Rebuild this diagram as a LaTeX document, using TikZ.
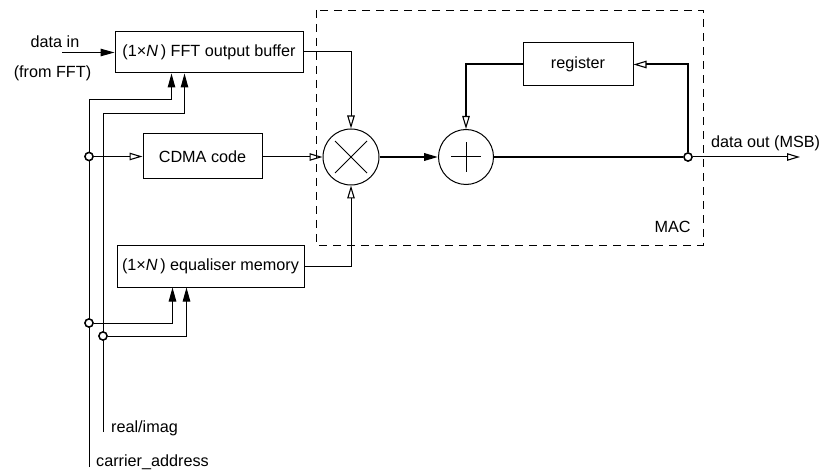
\documentclass[tikz,border=0pt]{standalone}
\usepackage{fontspec}
\setmainfont{Liberation Sans}
\usetikzlibrary{arrows.meta}
\begin{document}
\begin{tikzpicture}[x=1pt,y=-1pt,
  every node/.style={font=\fontsize{16.2}{19}\selectfont},
  blk/.style={draw,line width=1pt,rectangle,inner sep=0pt},
  opblk/.style={draw,line width=1pt,circle,inner sep=0pt},
  wire/.style={line width=1pt},
  thick wire/.style={line width=2pt},
  farrow/.style={-{Triangle[length=14pt,width=7.5pt]}},
  oarrow/.style={-{Triangle[open,length=13pt,width=7.5pt,line width=1.1pt]}},
  jdot/.style={draw,circle,fill=white,line width=1.4pt,minimum size=8pt,inner sep=0pt},
  lbl/.style={inner sep=0pt}]
\useasboundingbox (0,0) rectangle (822,473);
% MAC box
\draw[line width=0.9pt,dash pattern=on 8pt off 6pt] (316,10) rectangle (703,245);
\node[lbl] (mac) at (672.5,227) {MAC};
% blocks
\node[blk,minimum width=188pt,minimum height=41pt] (fft) at (209,52.5) {(1×\textit{N}\,) FFT output buffer};
\node[blk,minimum width=119pt,minimum height=45pt] (cdma) at (202.5,156.5) {CDMA code};
\node[blk,minimum width=187pt,minimum height=41pt] (eq) at (210.5,266.5) {(1×\textit{N}\,) equaliser memory};
\node[blk,minimum width=110pt,minimum height=43pt] (reg) at (578,64.5) {register};
\node[opblk,minimum size=56pt] (mul) at (351,157) {};
\node[opblk,minimum size=55pt] (add) at (466,157) {};
\draw[wire] ([shift={(-16,-16)}]mul.center) -- ([shift={(16,16)}]mul.center);
\draw[wire] ([shift={(-16,16)}]mul.center) -- ([shift={(16,-16)}]mul.center);
\draw[wire] ([xshift=-15]add.center) -- ([xshift=15]add.center);
\draw[wire] ([yshift=-15]add.center) -- ([yshift=15]add.center);
% coordinates
\coordinate (din) at (62,52.5);
\coordinate (caBot) at (89,467);
\coordinate (riBot) at (103,432);
\coordinate (dout) at (800,157);
\coordinate (fa1) at ([xshift=57pt]fft.south west);
\coordinate (fa2) at ([xshift=70pt]fft.south west);
\coordinate (ea1) at ([xshift=56pt]eq.south west);
\coordinate (ea2) at ([xshift=70pt]eq.south west);
\node[jdot] (j1) at (89,156.5) {};
\node[jdot] (j2) at (89,323) {};
\node[jdot] (j3) at (103,336) {};
\node[jdot] (jout) at (688,157) {};
% labels
\node[lbl] (dinl) at (55,42) {data in};
\node[lbl] (fromfft) at (52.5,73) {(from FFT)};
\node[lbl,anchor=west] (doutl) at (711,143) {data out (MSB)};
\node[lbl,anchor=west] (ril) at (111,428) {real/imag};
\node[lbl,anchor=west] (cal) at (96,462) {carrier\_address};
% connectors
\draw[wire,farrow] (din) -- (fft.west);
\draw[wire,farrow] (caBot) -- (89,100) -| (fa1);
\draw[wire,farrow] (riBot) -- (103,114) -| (fa2);
\draw[wire,oarrow] (j1) -- (cdma.west);
\draw[wire,farrow] (j2) -| (ea1);
\draw[wire,farrow] (j3) -| (ea2);
\draw[wire,oarrow] (fft.east |- 0,52) -| (mul.north);
\draw[wire,oarrow] (cdma.east |- mul.west) -- (mul.west);
\draw[wire,oarrow] (eq.east) -| (mul.south);
\draw[thick wire,farrow] (mul.east) -- (add.west);
\draw[thick wire] (add.east) -- (jout);
\draw[thick wire,oarrow] (jout) |- (reg.east);
\draw[thick wire,oarrow] (reg.west) -| (add.north);
\draw[wire,oarrow] (jout) -- (dout);
% redraw junctions on top
\node[jdot] at (j1) {};
\node[jdot] at (j2) {};
\node[jdot] at (j3) {};
\node[jdot] at (jout) {};
\end{tikzpicture}
\end{document}
